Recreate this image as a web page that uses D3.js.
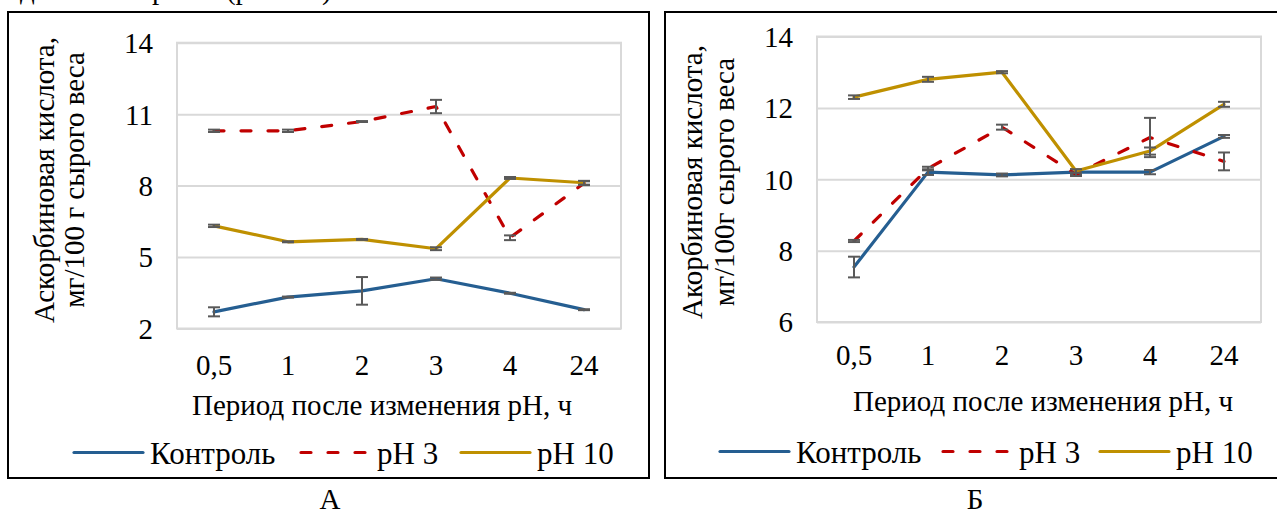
<!DOCTYPE html>
<html>
<head>
<meta charset="utf-8">
<script src="https://cdn.jsdelivr.net/npm/d3@7/dist/d3.min.js"></script>
<style>
  html, body { margin: 0; padding: 0; background: #fff; }
  svg { display: block; }
  svg text { font-family: "Liberation Serif", "Times New Roman", Times, "DejaVu Serif", serif !important; }
</style>
</head>
<body>
<svg id="chart" width="1277" height="515"></svg>
<script>
// Periods after the pH change (hours)
const periods = ["0,5", "1", "2", "3", "4", "24"];
const seriesNames = ["Контроль", "pH 3", "pH 10"];

// Panel A: ascorbic acid, mg/100 g fresh weight
const ticksA = [2, 5, 8, 11, 14];
const controlA = [2.70, 3.32, 3.58, 4.09, 3.48, 2.79];
const controlErrA = [0.19, 0.02, 0.58, 0.05, 0.02, 0.02];
const ph3A = [10.30, 10.30, 10.69, 11.32, 5.81, 8.10];
const ph3ErrA = [0.05, 0.05, 0.02, 0.28, 0.10, 0.08];
const ph10A = [6.31, 5.64, 5.74, 5.35, 8.32, 8.12];
const ph10ErrA = [0.05, 0.02, 0.02, 0.06, 0.04, 0.08];

// Panel B
const ticksB = [6, 8, 10, 12, 14];
const controlB = [7.54, 10.20, 10.12, 10.20, 10.20, 11.20];
const controlErrB = [0.29, 0.08, 0.04, 0.08, 0.06, 0.04];
const ph3B = [8.27, 10.30, 11.46, 10.14, 11.17, 10.50];
const ph3ErrB = [0.03, 0.05, 0.07, 0.05, 0.55, 0.25];
const ph10B = [12.30, 12.80, 13.00, 10.23, 10.79, 12.10];
const ph10ErrB = [0.05, 0.07, 0.03, 0.05, 0.10, 0.07];

const colors = ["#255E91", "#C00000", "#BF9000"];
const dashes = [null, "10,17", null];
const serif = '"Liberation Serif", "Times New Roman", Times, "DejaVu Serif", serif';

const svg = d3.select("#chart").attr("font-family", serif);

// Clipped line of running text above the figure
svg.append("text")
  .attr("x", 20).attr("y", -1)
  .attr("font-family", serif)
  .attr("font-size", 29).attr("fill", "#000")
  .text("данные в срезах (рис. 12)");

function drawPanel(p) {
  const g = svg.append("g").attr("font-family", serif);

  // Outer frame
  g.append("rect")
    .attr("x", p.frame[0]).attr("y", p.frame[1])
    .attr("width", p.frame[2]).attr("height", p.frame[3])
    .attr("fill", "none").attr("stroke", "#000").attr("stroke-width", 2);

  const x = d3.scaleBand().domain(periods).range([p.left, p.right]);
  const y = d3.scaleLinear().domain(d3.extent(p.ticks)).range([p.bottom, p.top]);

  // Horizontal gridlines via a y axis with full-width ticks
  const yAxis = g.append("g")
    .attr("transform", `translate(${p.left},0)`)
    .call(d3.axisLeft(y).tickValues(p.ticks).tickSize(-(p.right - p.left)).tickPadding(24).tickFormat(d3.format("d")))
    .attr("font-family", serif);
  yAxis.select(".domain").remove();
  yAxis.selectAll(".tick line").attr("stroke", "#d9d9d9").attr("stroke-width", 2);
  yAxis.selectAll(".tick text")
    .attr("font-family", serif).attr("font-size", 29).attr("fill", "#000")
    .attr("dy", "0.34em");

  // Plot-area border (light grey)
  g.append("rect")
    .attr("x", p.left).attr("y", p.top)
    .attr("width", p.right - p.left).attr("height", p.bottom - p.top)
    .attr("fill", "none").attr("stroke", "#d9d9d9").attr("stroke-width", 2);

  // Category labels
  const xAxis = g.append("g")
    .attr("transform", `translate(0,${p.bottom})`)
    .call(d3.axisBottom(x).tickSize(0).tickPadding(0))
    .attr("font-family", serif);
  xAxis.select(".domain").remove();
  xAxis.selectAll(".tick text")
    .attr("font-family", serif).attr("font-size", 29).attr("fill", "#000")
    .attr("y", p.xLabelOffset).attr("dy", 0);

  // Series lines and error bars
  const line = d3.line()
    .x((d, i) => x(periods[i]) + x.bandwidth() / 2)
    .y(d => y(d));

  p.series.forEach((s, k) => {
    g.append("path")
      .datum(s.values)
      .attr("d", line)
      .attr("fill", "none")
      .attr("stroke", colors[k])
      .attr("stroke-width", 3.2)
      .attr("stroke-linejoin", "round")
      .attr("stroke-linecap", "round")
      .attr("stroke-dasharray", dashes[k]);

    const eb = g.append("g").attr("stroke", "#595959").attr("stroke-width", 2);
    s.values.forEach((v, i) => {
      const cx = x(periods[i]) + x.bandwidth() / 2;
      const lo = y(v - s.err[i]), hi = y(v + s.err[i]);
      eb.append("line").attr("x1", cx).attr("x2", cx).attr("y1", lo).attr("y2", hi);
      eb.append("line").attr("x1", cx - 6).attr("x2", cx + 6).attr("y1", lo).attr("y2", lo);
      eb.append("line").attr("x1", cx - 6).attr("x2", cx + 6).attr("y1", hi).attr("y2", hi);
    });
  });

  // Y axis title (two lines, rotated)
  p.yTitle.forEach((t, i) => {
    g.append("text")
      .attr("transform", `translate(${p.yTitleX[i]},${p.yTitleY}) rotate(-90)`)
      .attr("text-anchor", "middle")
      .attr("font-size", 29).attr("fill", "#000")
      .text(t);
  });

  // X axis title
  g.append("text")
    .attr("x", p.xTitleX).attr("y", p.xTitleY)
    .attr("text-anchor", "middle")
    .attr("font-size", 29).attr("fill", "#000")
    .text("Период после изменения pH, ч");

  // Legend
  const lg = g.append("g");
  p.series.forEach((s, k) => {
    const lx = p.legendX[k];
    lg.append("line")
      .attr("x1", lx).attr("x2", lx + 69)
      .attr("y1", p.legendY - 11.5).attr("y2", p.legendY - 11.5)
      .attr("stroke", colors[k]).attr("stroke-width", 3.2)
      .attr("stroke-linecap", "round")
      .attr("stroke-dasharray", dashes[k]);
    lg.append("text")
      .attr("x", lx + 76).attr("y", p.legendY)
      .attr("font-size", 31).attr("fill", "#000")
      .text(seriesNames[k]);
  });

  // Panel letter
  g.append("text")
    .attr("x", p.letterX).attr("y", 509)
    .attr("text-anchor", "middle")
    .attr("font-size", 29).attr("fill", "#000")
    .text(p.letter);
}

drawPanel({
  frame: [8, 12, 641, 466],
  left: 177, right: 621, top: 42.7, bottom: 328.5,
  ticks: ticksA,
  xLabelOffset: 46,
  series: [
    { values: controlA, err: controlErrA },
    { values: ph3A, err: ph3ErrA },
    { values: ph10A, err: ph10ErrA }
  ],
  yTitle: ["Аскорбиновая кислота,", "мг/100 г сырого веса"],
  yTitleX: [54, 84], yTitleY: 180,
  xTitleX: 382, xTitleY: 415,
  legendX: [74, 301, 461], legendY: 464,
  letter: "А", letterX: 330
});

drawPanel({
  frame: [665, 12, 640, 466],
  left: 817, right: 1261, top: 36.5, bottom: 322,
  ticks: ticksB,
  xLabelOffset: 43,
  series: [
    { values: controlB, err: controlErrB },
    { values: ph3B, err: ph3ErrB },
    { values: ph10B, err: ph10ErrB }
  ],
  yTitle: ["Акорбиновая кислота,", "мг/100г сырого веса"],
  yTitleX: [702, 734], yTitleY: 182,
  xTitleX: 1043, xTitleY: 411,
  legendX: [720, 943, 1100], legendY: 463,
  letter: "Б", letterX: 975
});
</script>
</body>
</html>
